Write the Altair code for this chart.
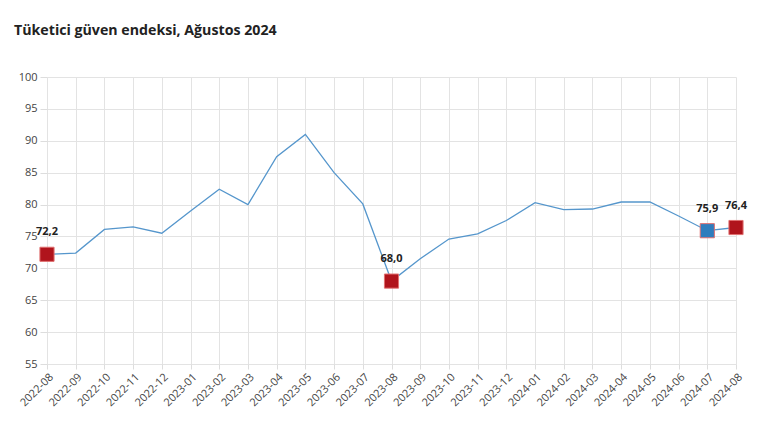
import altair as alt
import pandas as pd

months = ["2022-08","2022-09","2022-10","2022-11","2022-12","2023-01","2023-02","2023-03",
          "2023-04","2023-05","2023-06","2023-07","2023-08","2023-09","2023-10","2023-11",
          "2023-12","2024-01","2024-02","2024-03","2024-04","2024-05","2024-06","2024-07","2024-08"]
values = [72.2, 72.4, 76.1, 76.5, 75.5, 79.0, 82.4, 80.0,
          87.5, 91.0, 85.0, 80.1, 68.0, 71.5, 74.6, 75.4,
          77.5, 80.3, 79.2, 79.3, 80.4, 80.4, 78.2, 75.9, 76.4]
y_ticks = [55, 60, 65, 70, 75, 80, 85, 90, 95, 100]
highlight_months = ["2022-08", "2023-08", "2024-07", "2024-08"]
highlight_colors = ["#b0141c", "#b0141c", "#2f7dbd", "#b0141c"]

df = pd.DataFrame({"month": months, "value": values})
hl = pd.DataFrame({"month": highlight_months,
                   "value": [values[months.index(m)] for m in highlight_months],
                   "color": highlight_colors})
hl["label"] = hl["value"].map(lambda v: f"{v:.1f}".replace(".", ","))

x = alt.X("month:O", sort=months, title=None,
          scale=alt.Scale(type="point", padding=0),
          axis=alt.Axis(labelAngle=-45, labelFontSize=11, labelColor="#444",
                        labelFont="Open Sans", tickColor="#dddddd", tickSize=5,
                        domain=False, grid=True, gridColor="#e3e3e3", labelPadding=2,
                        labelOverlap=False))
y = alt.Y("value:Q", title=None,
          scale=alt.Scale(domain=[55, 100], nice=False, zero=False),
          axis=alt.Axis(values=y_ticks, labelFontSize=11, labelColor="#444",
                        labelFont="Open Sans", tickColor="#dddddd", tickSize=7,
                        domain=False, gridColor="#e3e3e3", labelPadding=3,
                        labelOverlap=False, labelFlush=False))

line = alt.Chart(df).mark_line(color="#5596cc", strokeWidth=1.3).encode(x=x, y=y)
pts = alt.Chart(hl).mark_square(size=200, opacity=1, strokeWidth=1).encode(
    x=x, y=y,
    fill=alt.Color("color:N", scale=None),
    stroke=alt.value("#e07070"))
txt = alt.Chart(hl).mark_text(dy=-22, fontSize=11, fontWeight="bold",
                              font="Open Sans", color="#222").encode(
    x=x, y=y, text="label:N")

chart = alt.layer(line, pts, txt).properties(
    width=689, height=287,
    autosize=alt.AutoSizeParams(type="none"),
    padding={"left": 47, "top": 77, "right": 34, "bottom": 74},
    title=alt.TitleParams("Tüketici güven endeksi, Ağustos 2024", anchor="start",
                          frame="group",
                          font="Open Sans", fontSize=14.2, fontWeight="bold",
                          color="#222", dx=-33, offset=33),
).configure_view(stroke=None)

chart.save("out.html", embed_options={"renderer": "svg", "actions": False})
